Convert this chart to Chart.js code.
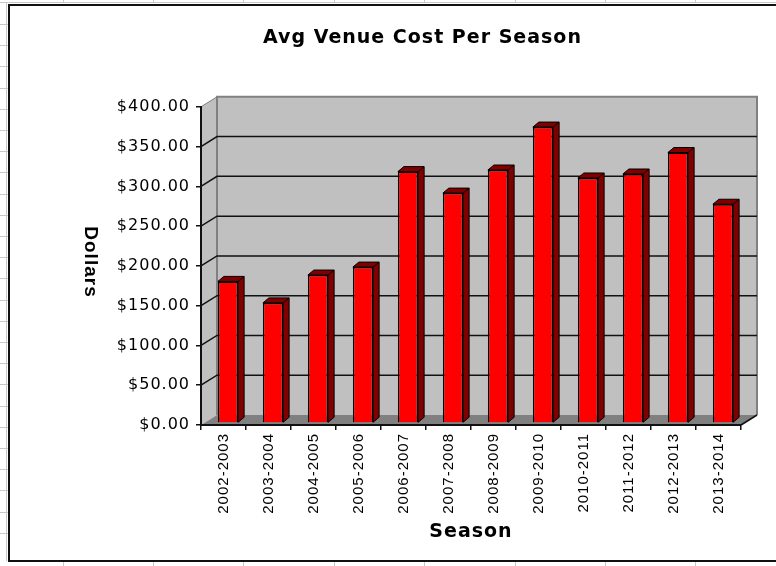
<!DOCTYPE html>
<html>
<head>
<meta charset="utf-8">
<style>
html,body{margin:0;padding:0;background:#fff;}
#wrap{position:absolute;left:0;top:0;width:776px;height:566px;}
canvas{filter:blur(0.45px);}
</style>
<script src="https://cdn.jsdelivr.net/npm/chart.js@4"></script>
</head>
<body>
<div id="wrap"><canvas id="c" width="776" height="566"></canvas></div>
<script>
const categories = ["2002-2003","2003-2004","2004-2005","2005-2006","2006-2007","2007-2008","2008-2009","2009-2010","2010-2011","2011-2012","2012-2013","2013-2014"];
const avgCost = [178,151,186,196,316,289,318,372,308,313,340,275];
const titleText = "Avg Venue Cost Per Season";
const xTitle = "Season";
const yTitle = "Dollars";
const yMax = 400;
const yStep = 50;

const WALL = {dx:16, dy:-10};
const BAR3D = {dx:6, dy:-5};
const SHIFT = {dx:4.5, dy:-2};

const scene = {
  id:'scene',
  beforeDraw(chart){
    const c = chart.ctx, a = chart.chartArea, y = chart.scales.y;
    c.letterSpacing = '1px';
    c.save();
    c.fillStyle = '#fff'; c.fillRect(0,0,776,566);
    c.fillStyle = '#c8c8c8';
    for(let i=0;i<25;i++) c.fillRect(0,Math.round(24+21.2*i),8,1);
    for(let i=0;i<8;i++){ const x=Math.round(62.5+90.4*i); c.fillRect(x,0,1,3); c.fillRect(x,562,1,4); }
    c.fillRect(0,2,776,1);
    c.fillRect(6,3,1,558);
    c.fillStyle = '#111';
    c.fillRect(8,4,768,2);
    c.fillRect(8,4,2,558);
    c.fillRect(8,560,768,2);
    const L=a.left,R=a.right,T=a.top,B=a.bottom,dx=WALL.dx,dy=WALL.dy;
    const poly=(pts,fill)=>{c.beginPath();pts.forEach((p,i)=>i?c.lineTo(p[0],p[1]):c.moveTo(p[0],p[1]));c.closePath();
      c.fillStyle=fill;c.fill();};
    poly([[L,T],[L+dx,T+dy],[L+dx,B+dy],[L,B]],'#c0c0c0');
    poly([[L+dx,T+dy],[R+dx,T+dy],[R+dx,B+dy],[L+dx,B+dy]],'#c0c0c0');
    poly([[L,B],[L+dx,B+dy],[R+dx,B+dy],[R,B]],'#808080');
    c.strokeStyle='#808080'; c.lineWidth=2;
    c.beginPath();
    c.moveTo(L+dx,B+dy); c.lineTo(L+dx,T+dy); c.lineTo(R+dx,T+dy); c.lineTo(R+dx,B+dy);
    c.stroke();
    c.lineWidth=1;
    c.beginPath(); c.moveTo(L,T); c.lineTo(L+dx,T+dy); c.stroke();
    c.strokeStyle='#111'; c.lineWidth=1.5;
    y.ticks.forEach(t=>{
      const p=y.getPixelForValue(t.value);
      if(t.value===0||t.value===yMax) return;
      c.beginPath(); c.moveTo(L,p); c.lineTo(L+dx,p+dy); c.lineTo(R+dx,p+dy); c.stroke();
    });
    c.beginPath(); c.moveTo(R,B); c.lineTo(R+dx,B+dy); c.stroke();
    c.save();
    c.translate(90,262); c.rotate(Math.PI/2);
    c.fillStyle='#000'; c.font='bold 19px "Liberation Sans"'; c.textAlign='center'; c.textBaseline='middle';
    c.fillText(yTitle,0,0);
    c.restore();
    c.restore();
  },
  beforeDatasetsDraw(chart){
    const c = chart.ctx;
    c.save();
    c.translate(SHIFT.dx,SHIFT.dy);
    chart.getDatasetMeta(0).data.forEach(b=>{
      const l=b.x-b.width/2,r=b.x+b.width/2,t=b.y,bs=b.base,dx=BAR3D.dx,dy=BAR3D.dy;
      c.fillStyle='#800000'; c.strokeStyle='#000'; c.lineWidth=1;
      c.beginPath(); c.moveTo(l,t); c.lineTo(l+dx,t+dy); c.lineTo(r+dx,t+dy); c.lineTo(r+dx,bs+dy); c.lineTo(r,bs); c.lineTo(r,t); c.closePath(); c.fill(); c.stroke();
      c.beginPath(); c.moveTo(r,t); c.lineTo(r+dx,t+dy); c.stroke();
    });
  },
  afterDatasetsDraw(chart){ chart.ctx.restore(); }
};

new Chart(document.getElementById('c'),{
  type:'bar',
  data:{labels:categories,datasets:[{data:avgCost,backgroundColor:'#ff0000',borderColor:'#000',borderWidth:1.5,
    categoryPercentage:1,barPercentage:0.45,clip:false}]},
  plugins:[scene],
  options:{
    responsive:false,animation:false,
    layout:{padding:{left:104,right:35,top:0,bottom:0}},
    plugins:{
      legend:{display:false},tooltip:{enabled:false},
      title:{display:true,text:titleText,color:'#000',font:{family:'"DejaVu Sans"',size:19,weight:'bold',lineHeight:1.2},padding:{top:27,bottom:57}}
    },
    scales:{
      x:{
        afterFit(s){s.height=141;},
        grid:{drawOnChartArea:false,drawTicks:true,tickLength:5,color:'#111',lineWidth:1.5},
        border:{color:'#111',width:2},
        ticks:{autoSkip:false,minRotation:90,maxRotation:90,padding:3,color:'#000',font:{family:'"Liberation Sans"',size:15}},
        title:{display:true,text:xTitle,color:'#000',font:{family:'"DejaVu Sans"',size:19,weight:'bold'},padding:{top:0,bottom:23}}
      },
      y:{
        min:0,max:yMax,
        afterFit(s){s.width=97;},
        grid:{drawOnChartArea:false,drawTicks:true,tickLength:5,color:'#111',lineWidth:1.5},
        border:{color:'#111',width:2},
        ticks:{stepSize:yStep,padding:6,color:'#000',font:{family:'"DejaVu Sans"',size:16},
          callback:v=>'$'+v.toFixed(2)}
      }
    }
  }
});
</script>
</body>
</html>
